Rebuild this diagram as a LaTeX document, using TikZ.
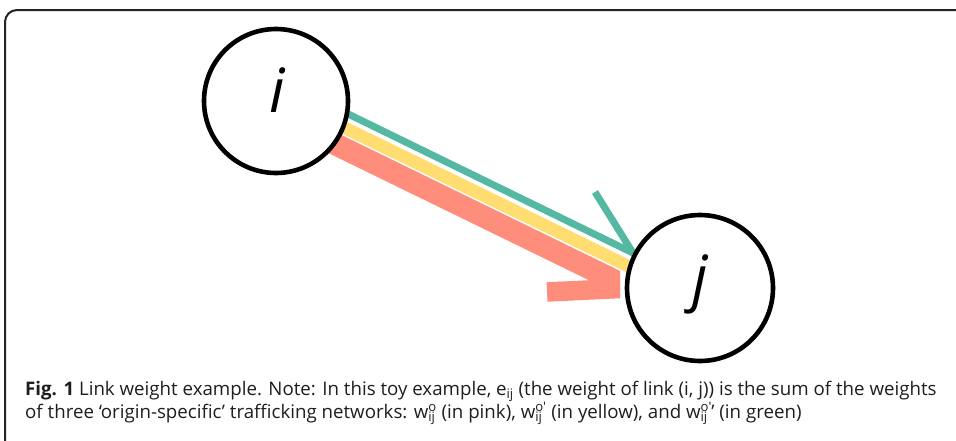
\documentclass[tikz,border=0pt]{standalone}
\usepackage{fontspec}
\setmainfont{Open Sans}
\definecolor{linkgreen}{RGB}{84,184,162}
\definecolor{linkyellow}{RGB}{255,221,112}
\definecolor{linkpink}{RGB}{255,141,124}
\definecolor{framegray}{RGB}{35,35,35}
\definecolor{captiontext}{RGB}{30,30,30}
% weight symbol w with stacked superscript and subscript
\newcommand\wsub[2]{w\begingroup
  \setbox0\hbox{\textsuperscript{#1}}\setbox2\hbox{\textsubscript{#2}}%
  \ifdim\wd0>\wd2\relax\rlap{\copy2}\box0\else\rlap{\copy0}\box2\fi\endgroup}
\begin{document}
\begin{tikzpicture}[x=1pt,y=-1pt,
  vertex/.style={circle, draw=black, line width=4.6pt, fill=white, inner sep=0pt},
  letter/.style={anchor=base, inner sep=0pt, font=\fontsize{61}{61}\selectfont\itshape},
  caption/.style={anchor=base west, inner sep=0pt, font=\fontsize{18.7}{23}\selectfont, text=captiontext}]

\useasboundingbox (0,0) rectangle (956,440);

% figure frame, open to the right and bottom
\draw[framegray, line width=2pt, rounded corners=12pt] (962,10) -- (5,10) -- (5,446);

% band end points (from i towards j)
\coordinate (g0) at (300,90.5);
\coordinate (g1) at (633,253);
\coordinate (gb) at (595,192);
\coordinate (y0) at (300,106);
\coordinate (y1) at (680,291.3);
\coordinate (p0) at (300,127);
\coordinate (p1) at (630,288);
\coordinate (pb) at (547,292);

% pink band with its lower half-head, cut off square before j
\begin{scope}
  \clip (0,0) rectangle (620,440);
  \draw[linkpink, line width=22pt] (p0) -- (p1);
  \draw[linkpink, line width=19.5pt] (p1) -- (pb);
\end{scope}
% yellow band
\draw[linkyellow, line width=12.5pt] (y0) -- (y1);
% green band with its upper half-head
\draw[linkgreen, line width=7pt, line join=miter] (g0) -- (g1) -- (gb);

% the two vertices
\node[vertex, minimum size=144pt] (i) at (276,101) {};
\node[vertex, minimum size=146pt] (j) at (700,288) {};
\node[letter] (ilab) at (277,112) {i};
\node[letter] (jlab) at (700,299) {j};

% caption
\node[caption] (cap1) at (25,395) {\textbf{Fig. 1} Link weight example. Note: In this toy example, e\textsubscript{ij} (the weight of link (i, j)) is the sum of the weights};
\node[caption] (cap2) at (25,418) {of three ‘origin-specific’ trafficking networks: \wsub{o}{ij} (in pink), \wsub{o′}{ij}\ (in yellow), and \wsub{o′}{ij}\kern-0.5pt’ (in green)};
\end{tikzpicture}
\end{document}
